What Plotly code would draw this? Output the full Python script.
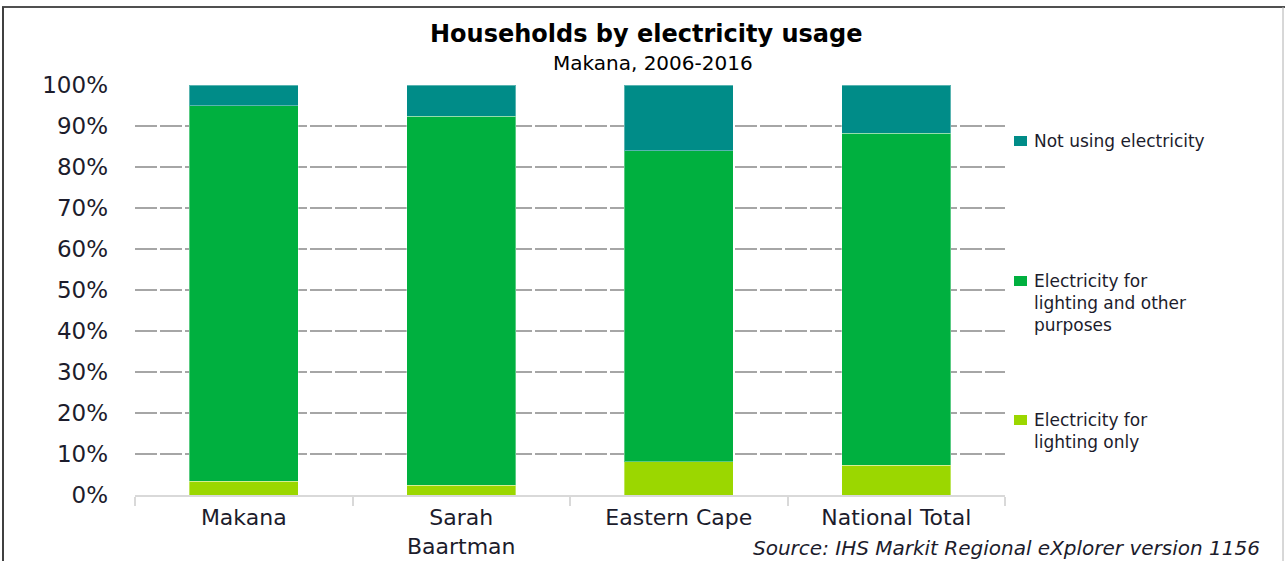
import plotly.graph_objects as go

# Household electricity usage shares (%), Makana region comparison
categories = ["Makana", "Sarah<br>Baartman", "Eastern Cape", "National Total"]
lighting_only = [3.4, 2.4, 8.1, 7.2]
lighting_other = [91.6, 90.0, 75.9, 81.0]
not_using = [5.0, 7.6, 16.0, 11.8]

series_names = [
    "Electricity for<br>lighting only",
    "Electricity for<br>lighting and other<br>purposes",
    "Not using electricity",
]
series_colors = ["#9BD700", "#00B03F", "#008C88"]
series_values = [lighting_only, lighting_other, not_using]

FONT = "DejaVu Sans"
TEXT = "#1c1c2c"

fig = go.Figure()
for name, vals, col in zip(series_names, series_values, series_colors):
    fig.add_trace(go.Bar(
        x=categories, y=vals, name=name,
        marker=dict(color=col, line=dict(color="rgba(255,255,255,0.35)", width=1)),
        showlegend=False,
    ))

W, H = 1285, 561
L, R, T, B = 135, 280, 85, 66
pw, ph = W - L - R, H - T - B


def px(x):
    return (x - L) / pw


def py(y):
    return (H - B - y) / ph


annotations = [
    dict(text="<b>Households by electricity usage</b>", x=px(646), y=py(34),
         font=dict(size=24, color="#000000", family=FONT)),
    dict(text="Makana, 2006-2016", x=px(653), y=py(63),
         font=dict(size=20, color="#000000", family=FONT)),
    dict(text="<i>Source: IHS Markit Regional eXplorer version 1156</i>", x=px(1262), y=py(548),
         xanchor="right", font=dict(size=20, color=TEXT, family=FONT)),
]
shapes = []

# Legend drawn beside the plot, ordered top to bottom
legend_rows = [(141, 2), (281, 1), (420, 0)]
for y_px, idx in legend_rows:
    shapes.append(dict(type="rect", xref="paper", yref="paper",
                       x0=px(1014), x1=px(1027), y0=py(y_px + 5), y1=py(y_px - 5),
                       fillcolor=series_colors[idx], line=dict(width=0)))
    annotations.append(dict(text=series_names[idx], x=px(1032), y=py(y_px - 12),
                            xanchor="left", yanchor="top", align="left",
                            font=dict(size=17, color=TEXT, family=FONT)))

for a in annotations:
    a.setdefault("xref", "paper")
    a.setdefault("yref", "paper")
    a.setdefault("showarrow", False)
    a.setdefault("xanchor", "center")
    a.setdefault("yanchor", "middle")

# Outer chart frame
shapes.append(dict(type="line", xref="paper", yref="paper", x0=px(2), x1=px(1285),
                   y0=py(7), y1=py(7), line=dict(color="#505050", width=2)))
shapes.append(dict(type="line", xref="paper", yref="paper", x0=px(3), x1=px(3),
                   y0=py(7), y1=py(561), line=dict(color="#404040", width=2)))
shapes.append(dict(type="line", xref="paper", yref="paper", x0=px(1283), x1=px(1283),
                   y0=py(7), y1=py(561), line=dict(color="#b0b0b0", width=1)))

fig.update_layout(
    barmode="stack",
    bargap=0.5,
    width=W, height=H,
    margin=dict(l=L, r=R, t=T, b=B, pad=0, autoexpand=False),
    paper_bgcolor="white", plot_bgcolor="white",
    font=dict(family=FONT, color=TEXT),
    annotations=annotations,
    shapes=shapes,
    xaxis=dict(
        automargin=False,
        showline=True, linecolor="#d9d9d9", linewidth=2,
        ticks="outside", tickson="boundaries", ticklen=9, tickcolor="#d9d9d9", tickwidth=2,
        tickfont=dict(size=22, family=FONT, color=TEXT),
        ticklabelstandoff=2,
        showgrid=False,
    ),
    yaxis=dict(
        automargin=False,
        range=[0, 100], dtick=10, ticksuffix="%",
        tickfont=dict(size=23, family=FONT, color=TEXT),
        showgrid=True, gridcolor="#a6a6a6", gridwidth=1.5, griddash="22px,3px",
        zeroline=False, showline=False, ticks="",
        ticklabelstandoff=26,
    ),
)

fig.write_html("out.html")
